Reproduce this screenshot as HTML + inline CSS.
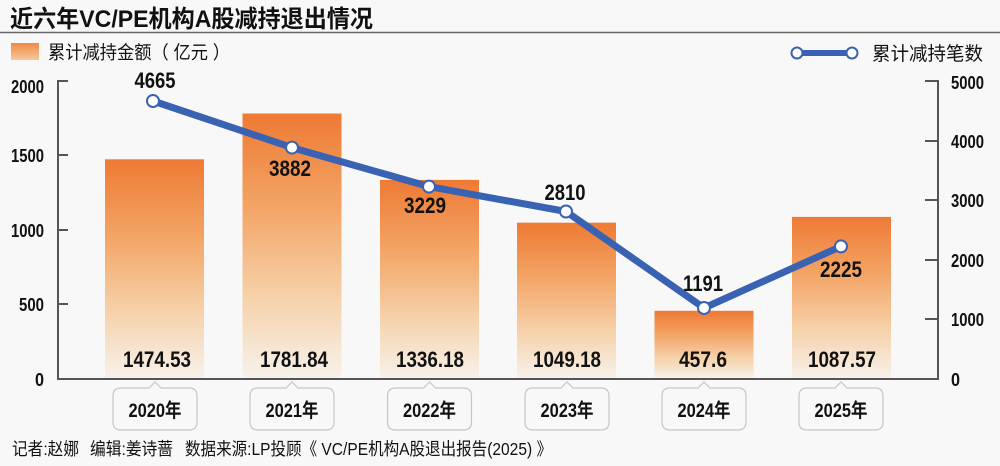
<!DOCTYPE html>
<html><head><meta charset="utf-8"><style>
html,body{margin:0;padding:0;background:#f8f8f8;}
svg{display:block;}
text{font-family:"Liberation Sans","Noto Sans CJK SC",sans-serif;fill:#111;}
.b{font-weight:bold;}
</style></head><body>
<svg width="1000" height="466" viewBox="0 0 1000 466" xmlns="http://www.w3.org/2000/svg">
<defs>
<linearGradient id="g" x1="0" y1="0" x2="0" y2="1">
<stop offset="0" stop-color="#ee7a34"/>
<stop offset="0.35" stop-color="#f3a465"/>
<stop offset="0.7" stop-color="#f6d2ab"/>
<stop offset="1" stop-color="#f7f2ec"/>
</linearGradient>
<linearGradient id="gl" x1="0" y1="0" x2="0" y2="1">
<stop offset="0" stop-color="#f08a45"/>
<stop offset="1" stop-color="#f6c89c"/>
</linearGradient>
</defs>
<rect width="1000" height="466" fill="#f8f8f8"/>
<!-- title -->
<text x="10" y="27" class="b" font-size="24" textLength="363" lengthAdjust="spacingAndGlyphs">近六年VC/PE机构A股减持退出情况</text>
<line x1="0" y1="32.5" x2="1000" y2="32.5" stroke="#666" stroke-width="1.5"/>
<!-- legends -->
<rect x="11" y="43" width="28" height="17" fill="url(#gl)"/>
<text x="48" y="59" font-size="18.5" textLength="182" lengthAdjust="spacingAndGlyphs">累计减持金额（ 亿元 ）</text>
<line x1="797" y1="53" x2="852" y2="53" stroke="#3a62b2" stroke-width="6"/>
<circle cx="797" cy="53" r="5.5" fill="#fff" stroke="#3a62b2" stroke-width="2"/>
<circle cx="852" cy="53" r="5.5" fill="#fff" stroke="#3a62b2" stroke-width="2"/>
<text x="872" y="60" font-size="19" textLength="111" lengthAdjust="spacingAndGlyphs">累计减持笔数</text>
<!-- bars -->
<rect x="105" y="159.3" width="99" height="219.7" fill="url(#g)"/>
<rect x="242.5" y="113.5" width="99" height="265.5" fill="url(#g)"/>
<rect x="380" y="179.9" width="99" height="199.1" fill="url(#g)"/>
<rect x="517" y="222.7" width="99" height="156.3" fill="url(#g)"/>
<rect x="654.5" y="310.8" width="99" height="68.2" fill="url(#g)"/>
<rect x="792" y="216.9" width="99" height="162.1" fill="url(#g)"/>
<!-- axes -->
<g stroke="#555" stroke-width="2" fill="none">
<line x1="58" y1="80" x2="58" y2="380"/>
<line x1="58" y1="379" x2="938" y2="379"/>
<line x1="938" y1="80" x2="938" y2="380"/>
<line x1="57" y1="81" x2="68" y2="81"/>
<line x1="57" y1="155" x2="68" y2="155"/>
<line x1="57" y1="230" x2="68" y2="230"/>
<line x1="57" y1="304" x2="68" y2="304"/>
<line x1="925" y1="81" x2="939" y2="81"/>
<line x1="925" y1="141" x2="939" y2="141"/>
<line x1="925" y1="200" x2="939" y2="200"/>
<line x1="925" y1="260" x2="939" y2="260"/>
<line x1="925" y1="319" x2="939" y2="319"/>
</g>
<!-- left tick labels -->
<g class="b" font-size="18" text-anchor="end">
<text x="44" y="93" textLength="33" lengthAdjust="spacingAndGlyphs">2000</text>
<text x="44" y="162" textLength="33" lengthAdjust="spacingAndGlyphs">1500</text>
<text x="44" y="237" textLength="33" lengthAdjust="spacingAndGlyphs">1000</text>
<text x="44" y="311" textLength="25" lengthAdjust="spacingAndGlyphs">500</text>
<text x="44" y="386" textLength="9" lengthAdjust="spacingAndGlyphs">0</text>
</g>
<!-- right tick labels -->
<g class="b" font-size="18">
<text x="951" y="89" textLength="33" lengthAdjust="spacingAndGlyphs">5000</text>
<text x="951" y="148" textLength="33" lengthAdjust="spacingAndGlyphs">4000</text>
<text x="951" y="207" textLength="33" lengthAdjust="spacingAndGlyphs">3000</text>
<text x="951" y="267" textLength="33" lengthAdjust="spacingAndGlyphs">2000</text>
<text x="951" y="326" textLength="33" lengthAdjust="spacingAndGlyphs">1000</text>
<text x="951" y="386" textLength="9" lengthAdjust="spacingAndGlyphs">0</text>
</g>
<!-- line series -->
<polyline points="153,101 292,147.6 429,186.6 566,211.5 704,308 841,246.4" fill="none" stroke="#3a62b2" stroke-width="7" stroke-linejoin="round"/>
<g fill="#fff" stroke="#3a62b2" stroke-width="2">
<circle cx="153" cy="101" r="6"/>
<circle cx="292" cy="147.6" r="6"/>
<circle cx="429" cy="186.6" r="6"/>
<circle cx="566" cy="211.5" r="6"/>
<circle cx="704" cy="308" r="6"/>
<circle cx="841" cy="246.4" r="6"/>
</g>
<!-- line labels -->
<g class="b" font-size="22.5" text-anchor="middle">
<text x="155" y="88" textLength="41" lengthAdjust="spacingAndGlyphs">4665</text>
<text x="290" y="176" textLength="42" lengthAdjust="spacingAndGlyphs">3882</text>
<text x="425" y="213" textLength="42" lengthAdjust="spacingAndGlyphs">3229</text>
<text x="565" y="200" textLength="41" lengthAdjust="spacingAndGlyphs">2810</text>
<text x="703" y="291" textLength="40" lengthAdjust="spacingAndGlyphs">1191</text>
<text x="841" y="277" textLength="42" lengthAdjust="spacingAndGlyphs">2225</text>
</g>
<!-- bar labels -->
<g class="b" font-size="22.5" text-anchor="middle">
<text x="157" y="367" textLength="68" lengthAdjust="spacingAndGlyphs">1474.53</text>
<text x="294" y="367" textLength="68" lengthAdjust="spacingAndGlyphs">1781.84</text>
<text x="430" y="367" textLength="68" lengthAdjust="spacingAndGlyphs">1336.18</text>
<text x="567" y="367" textLength="68" lengthAdjust="spacingAndGlyphs">1049.18</text>
<text x="703" y="367" textLength="48" lengthAdjust="spacingAndGlyphs">457.6</text>
<text x="842" y="367" textLength="68" lengthAdjust="spacingAndGlyphs">1087.57</text>
</g>
<!-- x label boxes -->
<g fill="#f8f8f8" stroke="#c6c6c6" stroke-width="1.2">
<path d="M121,388 H149 L155,382 L161,388 H189 Q197,388 197,396 V422 Q197,430 189,430 H121 Q113,430 113,422 V396 Q113,388 121,388 Z"/>
<path d="M258,388 H286 L292,382 L298,388 H326 Q334,388 334,396 V422 Q334,430 326,430 H258 Q250,430 250,422 V396 Q250,388 258,388 Z"/>
<path d="M395.5,388 H423.5 L429.5,382 L435.5,388 H463.5 Q471.5,388 471.5,396 V422 Q471.5,430 463.5,430 H395.5 Q387.5,430 387.5,422 V396 Q387.5,388 395.5,388 Z"/>
<path d="M533,388 H561 L567,382 L573,388 H601 Q609,388 609,396 V422 Q609,430 601,430 H533 Q525,430 525,422 V396 Q525,388 533,388 Z"/>
<path d="M670,388 H698 L704,382 L710,388 H738 Q746,388 746,396 V422 Q746,430 738,430 H670 Q662,430 662,422 V396 Q662,388 670,388 Z"/>
<path d="M807,388 H835 L841,382 L847,388 H875 Q883,388 883,396 V422 Q883,430 875,430 H807 Q799,430 799,422 V396 Q799,388 807,388 Z"/>
</g>
<g class="b" font-size="19.5" text-anchor="middle">
<text x="155" y="417" textLength="53" lengthAdjust="spacingAndGlyphs">2020年</text>
<text x="292" y="417" textLength="53" lengthAdjust="spacingAndGlyphs">2021年</text>
<text x="429.5" y="417" textLength="53" lengthAdjust="spacingAndGlyphs">2022年</text>
<text x="567" y="417" textLength="53" lengthAdjust="spacingAndGlyphs">2023年</text>
<text x="704" y="417" textLength="53" lengthAdjust="spacingAndGlyphs">2024年</text>
<text x="841" y="417" textLength="53" lengthAdjust="spacingAndGlyphs">2025年</text>
</g>
<!-- footer -->
<g font-size="17.5" fill="#222">
<text x="12" y="455" textLength="67" lengthAdjust="spacingAndGlyphs">记者:赵娜</text>
<text x="90" y="455" textLength="83" lengthAdjust="spacingAndGlyphs">编辑:姜诗蔷</text>
<text x="185" y="455" textLength="367" lengthAdjust="spacingAndGlyphs">数据来源:LP投顾《 VC/PE机构A股退出报告(2025) 》</text>
</g>
</svg>
</body></html>
